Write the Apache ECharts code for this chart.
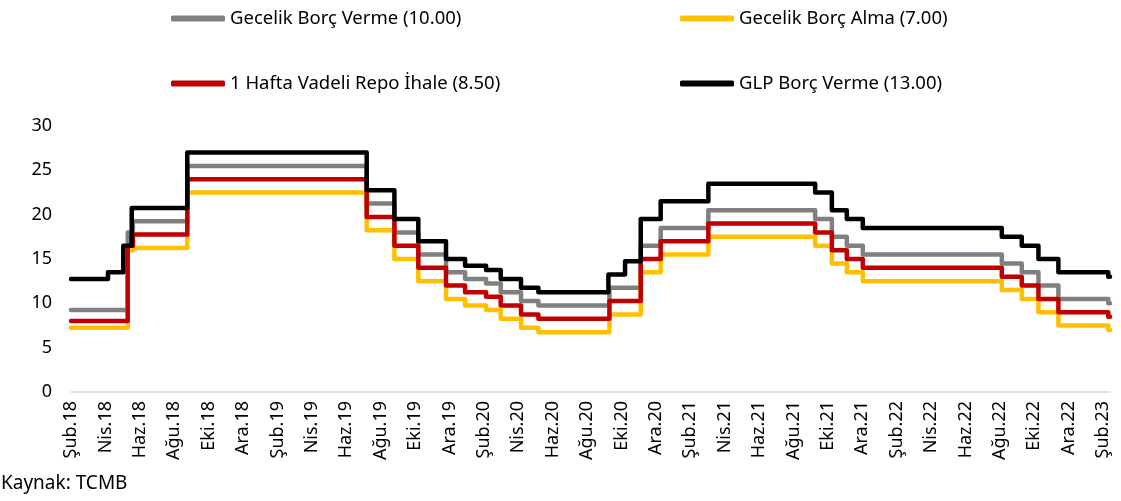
<!DOCTYPE html>
<html>
<head>
<meta charset="utf-8">
<title>TCMB faiz koridoru</title>
<script src="https://cdn.jsdelivr.net/npm/echarts@6/dist/echarts.min.js"></script>
<style>
    html, body { margin: 0; padding: 0; background: #fff; }
    #chart { width: 1121px; height: 501px; }
</style>
</head>
<body>
<div id="chart"></div>
<script>
    // x: ay sirasi (0 = Şub.18), degisim noktalari
    var xLabels = ['Şub.18', 'Nis.18', 'Haz.18', 'Ağu.18', 'Eki.18', 'Ara.18',
        'Şub.19', 'Nis.19', 'Haz.19', 'Ağu.19', 'Eki.19', 'Ara.19',
        'Şub.20', 'Nis.20', 'Haz.20', 'Ağu.20', 'Eki.20', 'Ara.20',
        'Şub.21', 'Nis.21', 'Haz.21', 'Ağu.21', 'Eki.21', 'Ara.21',
        'Şub.22', 'Nis.22', 'Haz.22', 'Ağu.22', 'Eki.22', 'Ara.22', 'Şub.23'];

    // politika degisim tarihleri (gecelik ve repo icin ortak)
    var policyX = [0, 3.3, 3.6, 6.76, 17.19, 18.8, 20.19, 21.8, 22.91, 24.13, 24.98, 26.16, 27.17,
        31.3, 33.12, 34.28, 37.05, 43.26, 44.23, 45.1, 46.03, 54.11, 55.27, 56.24, 57.4, 60.3, 60.4];
    var gecelikVerme = [9.25, 18.0, 19.25, 25.5, 21.25, 18.0, 15.5, 13.5, 12.75, 12.25, 11.25, 10.25, 9.75,
        11.75, 16.5, 18.5, 20.5, 19.5, 17.5, 16.5, 15.5, 14.5, 13.5, 12.0, 10.5, 10.0, 10.0];
    var gecelikAlma = [7.25, 16.0, 16.25, 22.5, 18.25, 15.0, 12.5, 10.5, 9.75, 9.25, 8.25, 7.25, 6.75,
        8.75, 13.5, 15.5, 17.5, 16.5, 14.5, 13.5, 12.5, 11.5, 10.5, 9.0, 7.5, 7.0, 7.0];
    var haftalikRepo = [8.0, 16.5, 17.75, 24.0, 19.75, 16.5, 14.0, 12.0, 11.25, 10.75, 9.75, 8.75, 8.25,
        10.25, 15.0, 17.0, 19.0, 18.0, 16.0, 15.0, 14.0, 13.0, 12.0, 10.5, 9.0, 8.5, 8.5];

    // GLP kendi tarihleri
    var glpX = [0, 2.15, 3.04, 3.53, 6.76, 17.19, 18.8, 20.19, 21.8, 22.91, 24.13, 24.98, 26.16, 27.17,
        31.24, 32.21, 33.12, 34.28, 37.05, 43.26, 44.23, 45.1, 46.03, 54.11, 55.27, 56.24, 57.4, 60.3, 60.4];
    var glpVerme = [12.75, 13.5, 16.5, 20.75, 27.0, 22.75, 19.5, 17.0, 15.0, 14.25, 13.75, 12.75, 11.75, 11.25,
        13.25, 14.75, 19.5, 21.5, 23.5, 22.5, 20.5, 19.5, 18.5, 17.5, 16.5, 15.0, 13.5, 13.0, 13.0];

    var seriesNames = ['Gecelik Borç Verme (10.00)', 'Gecelik Borç Alma (7.00)',
        '1 Hafta Vadeli Repo İhale (8.50)', 'GLP Borç Verme (13.00)'];
    var colors = ['#808080', '#FFC000', '#C00000', '#000000'];

    function pairs(xs, ys) {
        var out = [];
        for (var i = 0; i < xs.length; i++) {
            out.push([xs[i], ys[i]]);
        }
        return out;
    }

    function stepLine(name, color, data) {
        return {
            name: name,
            type: 'line',
            step: 'end',
            data: data,
            showSymbol: false,
            symbol: 'none',
            animation: false,
            lineStyle: { color: color, width: 4.5, cap: 'round', join: 'round' },
            itemStyle: { color: color }
        };
    }

    function legendAt(name, left, top) {
        return {
            data: [name],
            left: left,
            top: top,
            icon: 'roundRect',
            itemWidth: 54,
            itemHeight: 6,
            textStyle: { fontFamily: 'Noto Sans', fontSize: 18.5, color: '#000' }
        };
    }

    var chart = echarts.init(document.getElementById('chart'));
    var option = {
        backgroundColor: '#fff',
        textStyle: { fontFamily: 'Noto Sans' },
        legend: [
            legendAt(seriesNames[0], 166, 4),
            legendAt(seriesNames[1], 675, 4),
            legendAt(seriesNames[2], 166, 69),
            legendAt(seriesNames[3], 675, 69)
        ],
        grid: { left: 71, right: 11, top: 126, bottom: 109 },
        xAxis: {
            type: 'value',
            min: 0,
            max: 60.4,
            interval: 2,
            splitLine: { show: false },
            axisTick: { show: false },
            axisLine: { show: true, lineStyle: { color: '#d9d9d9', width: 1.5 } },
            axisLabel: {
                rotate: 90,
                margin: 9,
                fontSize: 18,
                color: '#000',
                showMaxLabel: false,
                formatter: function (v) {
                    var i = Math.round(v / 2);
                    if (Math.abs(v - i * 2) > 0.001) return '';
                    return xLabels[i] || '';
                }
            }
        },
        yAxis: {
            type: 'value',
            min: 0,
            max: 30,
            interval: 5,
            splitLine: { show: false },
            axisLine: { show: false },
            axisTick: { show: false },
            axisLabel: { fontSize: 18, color: '#000', margin: 19 }
        },
        graphic: [{
            type: 'text',
            left: 1,
            top: 474,
            style: { text: 'Kaynak: TCMB', fontFamily: 'Noto Sans', fontSize: 19, fill: '#000' }
        }],
        series: [
            stepLine(seriesNames[0], colors[0], pairs(policyX, gecelikVerme)),
            stepLine(seriesNames[1], colors[1], pairs(policyX, gecelikAlma)),
            stepLine(seriesNames[2], colors[2], pairs(policyX, haftalikRepo)),
            stepLine(seriesNames[3], colors[3], pairs(glpX, glpVerme))
        ]
    };
    chart.setOption(option);
</script>
</body>
</html>
